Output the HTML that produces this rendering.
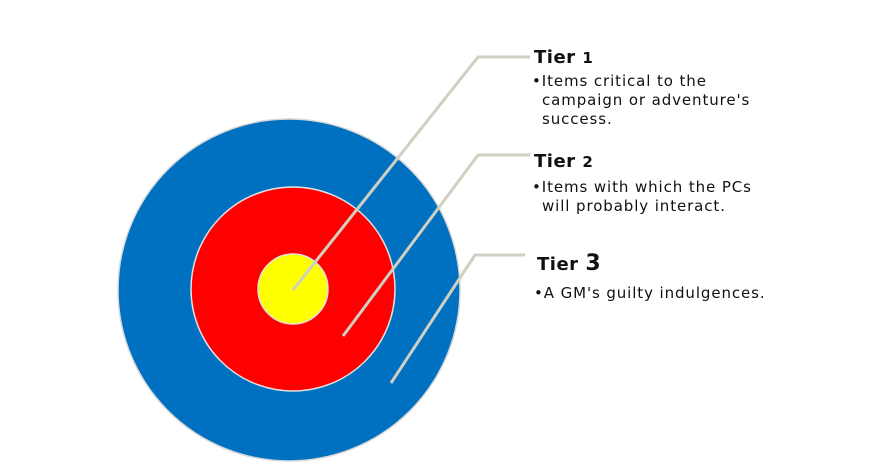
<!DOCTYPE html>
<html><head><style>
body{margin:0;background:#fff;width:871px;height:463px;overflow:hidden}
svg text{font-family:"DejaVu Sans","Liberation Sans",sans-serif}
</style></head><body>
<svg width="871" height="463" viewBox="0 0 871 463" xmlns="http://www.w3.org/2000/svg">
<circle cx="289" cy="290" r="171" fill="#0070c0" stroke="#d8d8d8" stroke-width="1.5"/>
<circle cx="293" cy="289" r="102" fill="#ff0000" stroke="#e0e0e0" stroke-width="1.5"/>
<circle cx="293" cy="289" r="35" fill="#ffff00" stroke="#e0e0e0" stroke-width="1.5"/>
<g fill="none" stroke="#cfcfc2" stroke-width="3" stroke-linejoin="round">
<polyline points="293,290 478,57 530,57"/>
<polyline points="343,336 478,155 530,155"/>
<polyline points="391,383 475,255 525,255"/>
</g>
<g font-size="15" fill="#111" letter-spacing="0.9">
<text x="534" y="63" font-weight="bold" font-size="18" letter-spacing="0.5">Tier <tspan font-size="15">1</tspan></text>
<text x="532" y="86">•Items critical to the</text>
<text x="542" y="105">campaign or adventure's</text>
<text x="542" y="124">success.</text>
<text x="534" y="167" font-weight="bold" font-size="18" letter-spacing="0.5">Tier <tspan font-size="15">2</tspan></text>
<text x="532" y="192">•Items with which the PCs</text>
<text x="542" y="211">will probably interact.</text>
<text x="537" y="270" font-weight="bold" font-size="18" letter-spacing="0.5">Tier <tspan font-size="22">3</tspan></text>
<text x="534" y="298">•A GM's guilty indulgences.</text>
</g>
</svg>
</body></html>
